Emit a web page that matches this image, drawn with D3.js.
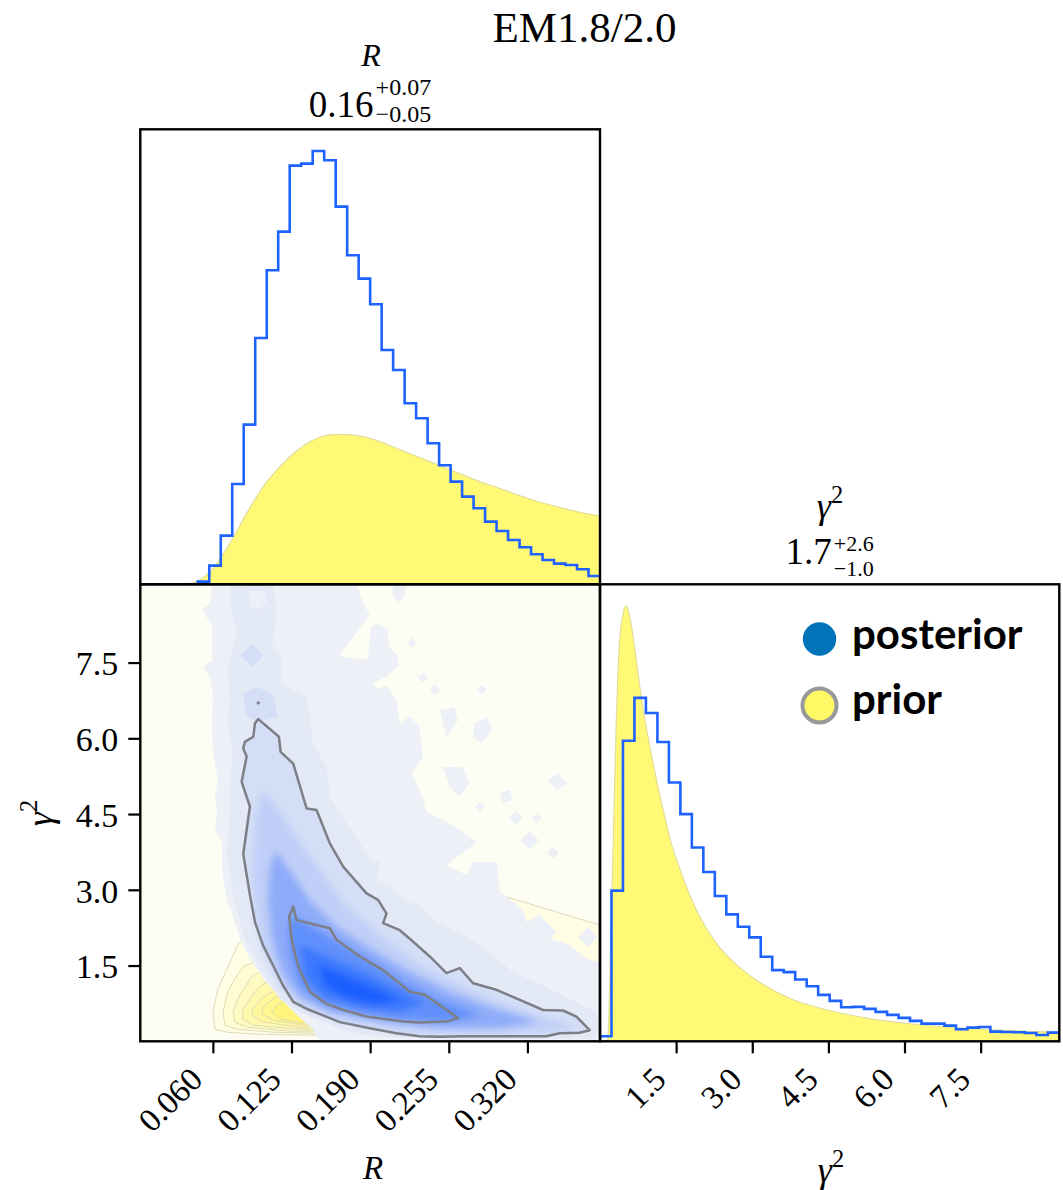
<!DOCTYPE html>
<html><head><meta charset="utf-8">
<script src="https://cdn.jsdelivr.net/npm/d3@7"></script>
<style>body{margin:0;background:#fff}svg{display:block}</style>
</head><body><script>
// ---------------- DATA ----------------
const titleText = "EM1.8/2.0";
const rRange = [0, 0.38];
const gRange = [0, 9.05];
// 1D posterior histograms (40 bins over the ranges)
const rHist = [0,0,0,0,0,8,56,146,301,479,739,942,1058,1256,1262,1300,1272,1133,987,917,840,703,643,543,498,423,357,308,263,228,188,160,133,111,90,73,62,58,45,25];
const gHist = [15,451,900,1028,983,896,775,680,580,507,435,380,343,311,253,213,207,185,165,139,121,102,103,97,88,79,70,61,53,53,47,36,41,43,29,28,27,25,19,26];
// 1D prior curves [value, density]
const rPrior = [[0.0383,0],[0.0465,8],[0.0603,48],[0.0741,123],[0.0879,213],[0.1016,293],[0.1154,353],[0.1292,400],[0.1429,433],[0.1567,448],[0.1650,450],[0.1842,443],[0.1980,428],[0.2118,408],[0.2256,388],[0.2393,368],[0.2531,348],[0.2669,328],[0.2806,308],[0.2944,291],[0.3082,273],[0.3219,256],[0.3357,241],[0.3495,228],[0.3633,216],[0.38,205]];
const gPrior = [[0.151,0],[0.177,83],[0.210,283],[0.243,483],[0.282,733],[0.322,963],[0.361,1133],[0.414,1243],[0.466,1288],[0.506,1303],[0.558,1290],[0.624,1240],[0.690,1170],[0.755,1095],[0.854,990],[0.985,880],[1.117,780],[1.248,690],[1.419,585],[1.600,505],[1.773,435],[2.069,345],[2.364,280],[2.700,228],[3.000,192],[3.744,128],[4.500,93],[5.320,68],[6.200,51],[7.200,39],[8.100,32],[9.050,27]];
// ticks
const rTicks = [0.060,0.125,0.190,0.255,0.320];
const rTickLabels = ["0.060","0.125","0.190","0.255","0.320"];
const gTicks = [1.5,3.0,4.5,6.0,7.5];
const gTickLabels = ["1.5","3.0","4.5","6.0","7.5"];
// summary labels
const rSummary = {main:"0.16", sup:"+0.07", sub:"\u22120.05"};
const gSummary = {main:"1.7", sup:"+2.6", sub:"\u22121.0"};
const legendLabels = ["posterior","prior"];
// 2D prior density contour regions [R, gamma^2], outer -> inner
const priorA = [[0.0617,0.24],[0.0600,0.58],[0.0642,1.04],[0.0716,1.43],[0.0807,1.91],[0.0906,2.20],[0.1732,2.70],[0.2558,2.99],[0.2971,2.90],[0.38,2.30],[0.38,0.10],[0.1427,0.12],[0.0964,0.14],[0.0716,0.18]];
const priorB = [[0.0700,0.32],[0.0683,0.58],[0.0724,0.98],[0.0799,1.31],[0.0848,1.47],[0.1071,1.71],[0.1567,1.02],[0.1567,0.16],[0.1427,0.16],[0.1096,0.18],[0.0799,0.24]];
const priorC = [[0.0782,0.38],[0.0766,0.58],[0.0824,0.92],[0.0881,1.13],[0.0931,1.31],[0.1113,1.51],[0.1567,0.92],[0.1567,0.20],[0.1237,0.20],[0.0881,0.28]];
const priorD = [[0.0848,0.44],[0.0848,0.62],[0.0906,0.84],[0.0964,1.02],[0.1013,1.13],[0.1195,1.31],[0.1567,0.82],[0.1567,0.24],[0.1294,0.24],[0.0931,0.32]];
const priorE = [[0.0923,0.52],[0.0931,0.64],[0.0989,0.82],[0.1055,0.94],[0.1237,1.11],[0.1567,0.72],[0.1567,0.28],[0.1319,0.28],[0.1013,0.38]];
const priorF = [[0.1005,0.54],[0.1013,0.68],[0.1088,0.82],[0.1129,0.88],[0.1278,1.02],[0.1567,0.66],[0.1567,0.32],[0.1344,0.32],[0.1096,0.42]];
const priorG = [[0.1088,0.58],[0.1129,0.72],[0.1179,0.78],[0.1319,0.92],[0.1567,0.62],[0.1567,0.34],[0.1377,0.34],[0.1154,0.44]];
// 2D posterior density regions
const post1 = [[0.0592,9.05],[0.1790,9.05],[0.1840,8.70],[0.1897,8.44],[0.1774,8.04],[0.1650,7.67],[0.1691,7.60],[0.1881,7.56],[0.1906,8.20],[0.1963,8.28],[0.2046,8.14],[0.2054,7.81],[0.2129,7.64],[0.2129,7.42],[0.2030,7.22],[0.1922,7.08],[0.1963,6.98],[0.2038,7.04],[0.2120,6.74],[0.2145,6.28],[0.2228,6.44],[0.2310,6.22],[0.2335,5.63],[0.2245,5.31],[0.2310,4.98],[0.2368,4.54],[0.2583,4.28],[0.2781,3.94],[0.2533,3.49],[0.2699,3.29],[0.2748,3.55],[0.2946,3.55],[0.2971,2.96],[0.3161,2.62],[0.3194,2.36],[0.3302,2.50],[0.3442,2.16],[0.3384,2.03],[0.3549,1.91],[0.3690,1.63],[0.38,1.57],[0.38,0],[0.1484,0],[0.1427,0.24],[0.1294,0.52],[0.1154,0.86],[0.1013,1.25],[0.0906,1.63],[0.0824,2.03],[0.0790,2.30],[0.0724,2.76],[0.0683,3.21],[0.0675,3.94],[0.0617,4.20],[0.0634,4.54],[0.0617,4.84],[0.0642,5.15],[0.0600,5.75],[0.0592,6.28],[0.0600,6.88],[0.0576,7.22],[0.0518,7.42],[0.0592,7.54],[0.0592,8.22],[0.0510,8.56],[0.0576,8.66]];
const post1Blobs = [
 [[0.2203,7.89],[0.2245,7.99],[0.2286,7.89],[0.2245,7.79]],
 [[0.2294,7.20],[0.2335,7.30],[0.2377,7.20],[0.2335,7.10]],
 [[0.2393,6.96],[0.2434,7.06],[0.2476,6.96],[0.2434,6.86]],
 [[0.2781,6.96],[0.2822,7.06],[0.2863,6.96],[0.2822,6.86]],
 [[0.2476,6.56],[0.2599,6.62],[0.2624,6.36],[0.2533,6.02]],
 [[0.2765,6.30],[0.2863,6.42],[0.2905,6.16],[0.2822,5.91],[0.2748,6.02]],
 [[0.2120,5.77],[0.2153,5.83],[0.2161,5.57],[0.2129,5.53]],
 [[0.2500,5.43],[0.2665,5.43],[0.2723,5.11],[0.2641,4.84],[0.2558,5.03]],
 [[0.2971,4.92],[0.3054,4.98],[0.3078,4.78],[0.2996,4.72]],
 [[0.2765,4.64],[0.2806,4.74],[0.2847,4.64],[0.2806,4.54]],
 [[0.3045,4.42],[0.3103,4.56],[0.3161,4.42],[0.3103,4.28]],
 [[0.3236,4.42],[0.3277,4.52],[0.3318,4.42],[0.3277,4.32]],
 [[0.3145,3.98],[0.3219,4.16],[0.3294,3.98],[0.3219,3.81]],
 [[0.3360,3.73],[0.3409,3.85],[0.3459,3.73],[0.3409,3.61]],
 [[0.3368,5.17],[0.3450,5.31],[0.3533,5.11],[0.3442,4.98]],
 [[0.3616,2.07],[0.3698,2.26],[0.3781,2.07],[0.3698,1.87]],
 [[0.2087,9.05],[0.2203,9.05],[0.2170,8.76],[0.2129,8.70],[0.2087,8.84]]
];
const post2 = [[0.0741,9.05],[0.1096,9.05],[0.1129,8.42],[0.1088,7.87],[0.1179,7.54],[0.1154,7.08],[0.1377,6.82],[0.1402,6.42],[0.1427,5.89],[0.1542,5.43],[0.1567,4.84],[0.1650,4.50],[0.1774,4.08],[0.1897,3.61],[0.1980,3.55],[0.1955,3.15],[0.2063,3.09],[0.2203,2.76],[0.2310,2.70],[0.2451,2.36],[0.2723,2.03],[0.2913,1.71],[0.3078,1.37],[0.3327,1.11],[0.3549,0.84],[0.3773,0.58],[0.38,0.32],[0.3756,0.06],[0.2558,0.03],[0.1897,0.10],[0.1650,0.24],[0.1319,0.58],[0.1154,0.84],[0.0989,1.43],[0.0881,1.91],[0.0824,2.36],[0.0766,2.90],[0.0716,3.71],[0.0741,4.54],[0.0741,5.09],[0.0766,5.75],[0.0724,6.28],[0.0741,6.74],[0.0724,7.42],[0.0799,8.08],[0.0757,8.42]];
const post2Holes = [[[0.0906,8.92],[0.1013,8.92],[0.1047,8.72],[0.0989,8.56],[0.0906,8.60]]];
const post3Patches = [
 [[0.0848,6.88],[0.0964,7.02],[0.1096,6.88],[0.1137,6.42],[0.0989,6.34],[0.0881,6.42]],
 [[0.0824,7.64],[0.0931,7.87],[0.1013,7.64],[0.0931,7.42]]
];
const sigma2 = [[0.0975,6.38],[0.1146,6.03],[0.1160,5.73],[0.1264,5.50],[0.1375,4.61],[0.1457,4.58],[0.1567,3.92],[0.1677,3.46],[0.1870,2.93],[0.1966,2.80],[0.2035,2.53],[0.2007,2.34],[0.2145,2.20],[0.2242,2.00],[0.2393,1.68],[0.2531,1.35],[0.2641,1.45],[0.2751,1.15],[0.2944,1.02],[0.3137,0.82],[0.3329,0.62],[0.3494,0.61],[0.3605,0.49],[0.3715,0.22],[0.3632,0.17],[0.3467,0.16],[0.3357,0.10],[0.3081,0.10],[0.2668,0.10],[0.2476,0.09],[0.2310,0.10],[0.2118,0.16],[0.1897,0.26],[0.1650,0.38],[0.1526,0.50],[0.1377,0.64],[0.1264,0.78],[0.1179,1.11],[0.1096,1.51],[0.1013,1.91],[0.0948,2.36],[0.0906,2.90],[0.0851,3.71],[0.0873,4.08],[0.0906,4.65],[0.0879,4.84],[0.0838,5.14],[0.0879,5.64],[0.0851,5.80],[0.0865,5.93],[0.0934,6.03],[0.0948,6.30]];
const sigma1 = [[0.1264,2.67],[0.1292,2.40],[0.1567,2.24],[0.1622,2.01],[0.1815,1.68],[0.2007,1.41],[0.2228,0.98],[0.2352,0.92],[0.2627,0.46],[0.2531,0.39],[0.2310,0.37],[0.2173,0.39],[0.1870,0.49],[0.1677,0.62],[0.1540,0.74],[0.1402,0.98],[0.1305,1.48],[0.1251,2.01],[0.1231,2.47]];
const contourDot = [0.0975, 6.70];
const post4 = [[0.1013,4.98],[0.1154,4.55],[0.1319,3.95],[0.1484,3.39],[0.1691,2.70],[0.1980,2.10],[0.2310,1.51],[0.2723,1.02],[0.3136,0.62],[0.3467,0.38],[0.3591,0.26],[0.3302,0.18],[0.2723,0.14],[0.2145,0.22],[0.1650,0.42],[0.1319,0.72],[0.1154,1.11],[0.1030,1.71],[0.0964,2.40],[0.0931,3.19],[0.0939,3.98],[0.0964,4.60]];
const post5 = [[0.1113,3.79],[0.1237,3.39],[0.1402,2.80],[0.1608,2.30],[0.1897,1.85],[0.2228,1.37],[0.2558,0.98],[0.2971,0.62],[0.3302,0.38],[0.2971,0.26],[0.2476,0.26],[0.1980,0.38],[0.1567,0.58],[0.1319,0.86],[0.1179,1.31],[0.1088,2.01],[0.1055,2.80],[0.1071,3.39]];
const post6 = [[0.1253,2.50],[0.1402,2.30],[0.1608,2.01],[0.1897,1.61],[0.2186,1.17],[0.2476,0.82],[0.2806,0.52],[0.2558,0.38],[0.2145,0.42],[0.1774,0.56],[0.1484,0.76],[0.1319,1.11],[0.1237,1.71],[0.1220,2.20]];
const post7 = [[0.1319,1.91],[0.1526,1.71],[0.1774,1.45],[0.2063,1.11],[0.2352,0.76],[0.2145,0.58],[0.1815,0.66],[0.1526,0.86],[0.1361,1.25]];
const post8 = [[0.1468,1.51],[0.1691,1.31],[0.1939,1.06],[0.2145,0.82],[0.1939,0.72],[0.1691,0.86],[0.1526,1.11]];

// ---------------- STYLE ----------------
const serif = "'Liberation Serif','Times New Roman',serif";
const BLUE = "#1e62ff", YEL = "#fff976", YEL_EDGE = "#e2dd9c";
const priorColors = ["#fffde4","#fffcd4","#fffac2","#fff9b0","#fff79e","#fff68d","#fff47c"];
const postColors = {l1:"#eef0f7", l2:"#e4e9f6", l3:"#d4def6", l4:"#bfcff7", l5:"#8eabf9", l6:"#6090fb", l7:"#3a78fd", l8:"#1b5eff"};

const W = 1063, H = 1190;
const X0 = 140.3, XM = 600, X1 = 1059.3, Y0 = 129.3, YM = 584.3, Y1 = 1041.3;

const svg = d3.select("body").append("svg").attr("width", W).attr("height", H);
const defs = svg.append("defs");
[["cTL",X0,Y0,XM-X0,YM-Y0],["cBL",X0,YM,XM-X0,Y1-YM],["cBR",XM,YM,X1-XM,Y1-YM]].forEach(c=>{
  defs.append("clipPath").attr("id",c[0]).append("rect").attr("x",c[1]).attr("y",c[2]).attr("width",c[3]).attr("height",c[4]);
});
defs.append("filter").attr("id","soft").attr("x","-20%").attr("y","-20%").attr("width","140%").attr("height","140%")
  .append("feGaussianBlur").attr("stdDeviation",3.5);

// scales
const xR = d3.scaleLinear().domain(rRange).range([X0, XM]);
const yG = d3.scaleLinear().domain(gRange).range([Y1, YM]);
const xG = d3.scaleLinear().domain(gRange).range([XM, X1]);
const topMax = 1.05 * Math.max(d3.max(rHist), d3.max(rPrior, d => d[1]));
const yTop = d3.scaleLinear().domain([0, topMax]).range([YM, Y0]);
const rightMax = 1.05 * Math.max(d3.max(gHist), d3.max(gPrior, d => d[1]));
const yRight = d3.scaleLinear().domain([0, rightMax]).range([Y1, YM]);

function stepPoints(counts, range){
  const n = counts.length, w = (range[1]-range[0])/n;
  let k = counts.findIndex(c => c > 0);
  const pts = [[range[0]+k*w, 0]];
  for (let i=k;i<n;i++){ pts.push([range[0]+i*w, counts[i]]); pts.push([range[0]+(i+1)*w, counts[i]]); }
  return pts;
}

// ---------- top-left: R marginal ----------
const gTL = svg.append("g").attr("clip-path","url(#cTL)");
gTL.append("path").datum(rPrior)
  .attr("d", d3.area().x(d=>xR(d[0])).y0(yTop(0)).y1(d=>yTop(d[1])).curve(d3.curveMonotoneX))
  .attr("fill", YEL);
gTL.append("path").datum(rPrior)
  .attr("d", d3.line().x(d=>xR(d[0])).y(d=>yTop(d[1])).curve(d3.curveMonotoneX))
  .attr("fill","none").attr("stroke",YEL_EDGE).attr("stroke-width",1.2);
gTL.append("path").datum(stepPoints(rHist, rRange))
  .attr("d", d3.line().x(d=>xR(d[0])).y(d=>yTop(d[1])))
  .attr("fill","none").attr("stroke",BLUE).attr("stroke-width",2.6);

// ---------- bottom-right: gamma^2 marginal ----------
const gBR = svg.append("g").attr("clip-path","url(#cBR)");
gBR.append("path").datum(gPrior)
  .attr("d", d3.area().x(d=>xG(d[0])).y0(yRight(0)).y1(d=>yRight(d[1])).curve(d3.curveMonotoneX))
  .attr("fill", YEL);
gBR.append("path").datum(gPrior)
  .attr("d", d3.line().x(d=>xG(d[0])).y(d=>yRight(d[1])).curve(d3.curveMonotoneX))
  .attr("fill","none").attr("stroke",YEL_EDGE).attr("stroke-width",1.2);
gBR.append("path").datum(stepPoints(gHist, gRange))
  .attr("d", d3.line().x(d=>xG(d[0])).y(d=>yRight(d[1])))
  .attr("fill","none").attr("stroke",BLUE).attr("stroke-width",2.6);

// ---------- bottom-left: 2D ----------
const gBL = svg.append("g").attr("clip-path","url(#cBL)");
const poly = d3.line().x(d=>xR(d[0])).y(d=>yG(d[1])).curve(d3.curveLinearClosed);
gBL.append("rect").attr("x",X0).attr("y",YM).attr("width",XM-X0).attr("height",Y1-YM).attr("fill","#fdfdf3");
[priorA,priorB,priorC,priorD,priorE,priorF,priorG].forEach((p,i)=>{
  gBL.append("path").attr("d",poly(p)).attr("fill",priorColors[i]).attr("stroke","#d9d7b4").attr("stroke-width",0.9);
});
gBL.append("path").attr("d",poly(post1)).attr("fill",postColors.l1);
post1Blobs.forEach(b=>gBL.append("path").attr("d",poly(b)).attr("fill",postColors.l1));
gBL.append("path").attr("d",poly(post2)).attr("fill",postColors.l2);
post2Holes.forEach(b=>gBL.append("path").attr("d",poly(b)).attr("fill",postColors.l1));
post3Patches.forEach(b=>gBL.append("path").attr("d",poly(b)).attr("fill",postColors.l3));
gBL.append("path").attr("d",poly(sigma2)).attr("fill",postColors.l3);
const soft = gBL.append("g").attr("filter","url(#soft)");
[[post4,postColors.l4],[post5,postColors.l5],[post6,postColors.l6],[post7,postColors.l7],[post8,postColors.l8]].forEach(([p,c])=>{
  soft.append("path").attr("d",poly(p)).attr("fill",c);
});
gBL.append("path").attr("d",poly(sigma2)).attr("fill","none").attr("stroke","#7d7f86").attr("stroke-width",2.5).attr("stroke-linejoin","round");
gBL.append("path").attr("d",poly(sigma1)).attr("fill","none").attr("stroke","#7d7f86").attr("stroke-width",2.5).attr("stroke-linejoin","round");
gBL.append("circle").attr("cx",xR(contourDot[0])).attr("cy",yG(contourDot[1])).attr("r",1.6).attr("fill","#7d7f86");

// ---------- spines ----------
[[X0,Y0,XM,YM],[X0,YM,XM,Y1],[XM,YM,X1,Y1]].forEach(([a,b,c,d])=>{
  svg.append("rect").attr("x",a).attr("y",b).attr("width",c-a).attr("height",d-b)
    .attr("fill","none").attr("stroke","#000").attr("stroke-width",2.4);
});

// ---------- axes ----------
function styleAxis(g, fs){
  g.select(".domain").remove();
  g.attr("font-family", serif).attr("font-size", fs);
  g.selectAll(".tick line").attr("stroke","#000").attr("stroke-width",2.2);
  g.selectAll(".tick text").attr("fill","#000");
}
function rotLabels(g){
  g.selectAll(".tick text").attr("x",0).attr("y",0).attr("dy",0).attr("text-anchor","end")
    .attr("transform","translate(-9,40) rotate(-45)");
}
const axRB = svg.append("g").attr("transform",`translate(0,${Y1})`)
  .call(d3.axisBottom(xR).tickValues(rTicks).tickFormat((d,i)=>rTickLabels[i]).tickSize(12));
styleAxis(axRB, 33); rotLabels(axRB);
const axGB = svg.append("g").attr("transform",`translate(0,${Y1})`)
  .call(d3.axisBottom(xG).tickValues(gTicks).tickFormat((d,i)=>gTickLabels[i]).tickSize(12));
styleAxis(axGB, 33); rotLabels(axGB);
const axGL = svg.append("g").attr("transform",`translate(${X0},0)`)
  .call(d3.axisLeft(yG).tickValues(gTicks).tickFormat((d,i)=>gTickLabels[i]).tickSize(12).tickPadding(10));
styleAxis(axGL, 34);
axGL.selectAll(".tick text").attr("dy","0.36em");

// ---------- texts ----------
svg.append("text").attr("x",584.5).attr("y",42).attr("text-anchor","middle")
  .attr("font-family",serif).attr("font-size",43).text(titleText);

function mathLabel(x, y, sym, fs, rotate){
  const t = svg.append("text").attr("font-family",serif).attr("font-size",fs).attr("text-anchor","middle")
    .attr("transform", rotate ? `translate(${x},${y}) rotate(-90)` : `translate(${x},${y})`);
  if (sym === "R") { t.append("tspan").attr("font-style","italic").text("R"); }
  else {
    t.append("tspan").attr("font-style","italic").text("\u03b3");
    t.append("tspan").attr("font-size",fs*0.68).attr("dy",-fs*0.42).text("2");
  }
  return t;
}
mathLabel(371, 66, "R", 32);
mathLabel(830, 518, "g", 36);
mathLabel(373, 1179, "R", 33);
mathLabel(831, 1182, "g", 36);
mathLabel(52, 813, "g", 36, true);

function valueLabel(cx, yb, s, fs, fss, supDy, subDy){
  const t = svg.append("text").attr("font-family",serif).attr("fill","#000");
  const tm = t.append("tspan").attr("y",yb).attr("font-size",fs).text(s.main);
  const tp = t.append("tspan").attr("y",yb+supDy).attr("font-size",fss).text(s.sup);
  const tb = t.append("tspan").attr("y",yb+subDy).attr("font-size",fss).text(s.sub);
  const wm = tm.node().getComputedTextLength();
  const ws = Math.max(tp.node().getComputedTextLength(), tb.node().getComputedTextLength());
  const x0 = cx - (wm + 2 + ws)/2;
  tm.attr("x",x0); tp.attr("x",x0+wm+2); tb.attr("x",x0+wm+2);
}
valueLabel(370, 117, rSummary, 37, 24, -22, 5);
valueLabel(829.6, 564, gSummary, 37, 22, -13, 12);

// ---------- legend ----------
const leg = svg.append("g");
leg.append("circle").attr("cx",819.5).attr("cy",639).attr("r",16.7).attr("fill","#0173b9");
leg.append("circle").attr("cx",819.5).attr("cy",705.5).attr("r",17).attr("fill","#fff966").attr("stroke","#999999").attr("stroke-width",4);
leg.selectAll("text.lg").data(legendLabels).enter().append("text")
  .attr("x",852).attr("y",(d,i)=> i===0 ? 648.5 : 713.5)
  .attr("font-family","Lato, 'Open Sans', sans-serif").attr("font-weight",700).attr("font-size",42)
  .attr("fill","#000").text(d=>d);
</script></body></html>
